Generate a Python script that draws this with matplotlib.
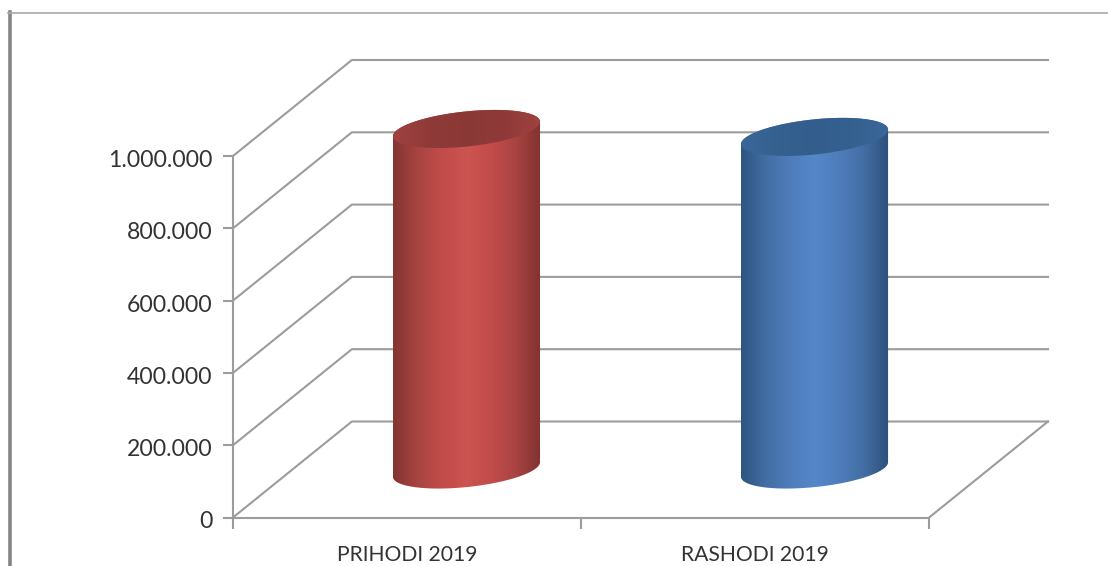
import numpy as np
from matplotlib import pyplot as plt
from matplotlib.colors import LinearSegmentedColormap
from matplotlib.lines import Line2D
from matplotlib.patches import Polygon
from matplotlib.transforms import ScaledTranslation

##Data

categories = ['PRIHODI 2019', 'RASHODI 2019']
values = [942000, 920000]
y_ticks = [0, 200000, 400000, 600000, 800000, 1000000]
y_tick_labels = ['0', '200.000', '400.000', '600.000', '800.000', '1.000.000']

##Style

W, H = 1108, 566
GREY = '#9c9c9c'
body_colors = [['#843432', '#a84442', '#c24c4a', '#cc5451', '#c24c4a', '#a84442', '#803230'],
               ['#2e5582', '#436ea4', '#4f7dbb', '#5587c9', '#4f7dbb', '#436ea4', '#2e507a']]
top_colors = [['#a04240', '#8f3a38', '#8a3836', '#8f3a38', '#a04240'],
              ['#3a6798', '#356191', '#325d8c', '#356191', '#3a6798']]

plt.rcParams['font.family'] = ['Lato', 'DejaVu Sans']

fig = plt.figure(figsize=(W / 100, H / 100), dpi=100)

# the axes go from the front left corner of the floor to the back top right corner
left, right, top, bottom = 233, 1048, 60, 517.5
ax = fig.add_axes([left / W, 1 - bottom / H, (right - left) / W, (bottom - top) / H])

px_x = 2 / 697  # one pixel in x data units
px_y = 1000000 / 361.5  # one pixel in y data units
depth_x = 119 * px_x
depth_y = 96 * px_y

##Walls

for v in y_ticks:
    ax.plot([0, depth_x, 2 + depth_x], [v, v + depth_y, v + depth_y], color=GREY, lw=1.5, clip_on=False, zorder=1)
ax.plot([2, 2 + depth_x], [0, depth_y], color=GREY, lw=1.5, clip_on=False, zorder=1)

##Cylinders

a, b = 74, 17.5
theta = np.radians(6)


def ellipse_points(cx, cy, t):
    x = a * np.cos(t) * np.cos(theta) - b * np.sin(t) * np.sin(theta)
    y = a * np.cos(t) * np.sin(theta) + b * np.sin(t) * np.cos(theta)
    return np.column_stack([cx + x * px_x, cy + y * px_y])


def gradient(colors, x0, x1, y0, y1, clip):
    cmap = LinearSegmentedColormap.from_list('c', colors)
    im = ax.imshow(np.linspace(0, 1, 256).reshape(1, -1), cmap=cmap, aspect='auto',
                   extent=[x0, x1, y0, y1], zorder=3, interpolation='bilinear')
    im.set_clip_path(clip)


t0 = np.arctan2(-b * np.sin(theta), a * np.cos(theta))
half_width = np.sqrt((a * np.cos(theta)) ** 2 + (b * np.sin(theta)) ** 2) * px_x

for k in range(len(categories)):
    cx = k + 0.5 + depth_x / 2
    base = depth_y / 2
    level = values[k] + depth_y / 2
    upper = ellipse_points(cx, level, np.linspace(t0, t0 + np.pi, 80))
    lower = ellipse_points(cx, base, np.linspace(t0 + np.pi, t0 + 2 * np.pi, 80))
    outline = Polygon(np.vstack([upper, lower]), closed=True, fc='none', ec='none', transform=ax.transData)
    ax.add_patch(outline)
    gradient(body_colors[k], cx - half_width, cx + half_width, base - 30 * px_y, level + 30 * px_y, outline)

    cap = Polygon(ellipse_points(cx, level, np.linspace(0, 2 * np.pi, 160)), closed=True, fc='none', ec='none',
                  transform=ax.transData)
    ax.add_patch(cap)
    gradient(top_colors[k], cx - half_width, cx + half_width, level - 30 * px_y, level + 30 * px_y, cap)

ax.set_xlim(0, 2 + depth_x)
ax.set_ylim(0, 1000000 + depth_y)

##Axes

ax.patch.set_visible(False)
for s in ['top', 'right']:
    ax.spines[s].set_visible(False)
for s in ['left', 'bottom']:
    ax.spines[s].set_color(GREY)
    ax.spines[s].set_linewidth(1.5)
ax.spines['left'].set_bounds(0, 1000000)
ax.spines['bottom'].set_bounds(0, 2)

ax.set_yticks(y_ticks)
ax.set_yticklabels(y_tick_labels, fontsize=16.6, color='#333333')
ax.tick_params(axis='y', length=7, width=1.5, color=GREY, pad=8)
for lab in ax.get_yticklabels():
    lab.set_transform(lab.get_transform() + ScaledTranslation(0, -2.5 / 100, fig.dpi_scale_trans))

ax.set_xticks([0, 1, 2])
ax.set_xticklabels([])
ax.tick_params(axis='x', which='major', length=8, width=1.5, color=GREY)
ax.set_xticks([0.5, 1.5], minor=True)
ax.set_xticklabels(categories, minor=True, fontsize=15.2, color='#333333')
ax.tick_params(axis='x', which='minor', length=0, pad=20)

##Frame of the screenshot

fig.add_artist(Line2D([9.5 / W, 9.5 / W], [0, 1 - 12 / H], color='#858585', lw=2.6))
fig.add_artist(Line2D([8 / W, 1], [1 - 12.5 / H, 1 - 12.5 / H], color='#a8a8a8', lw=1.2))

fig.savefig('out.png', dpi=100)
